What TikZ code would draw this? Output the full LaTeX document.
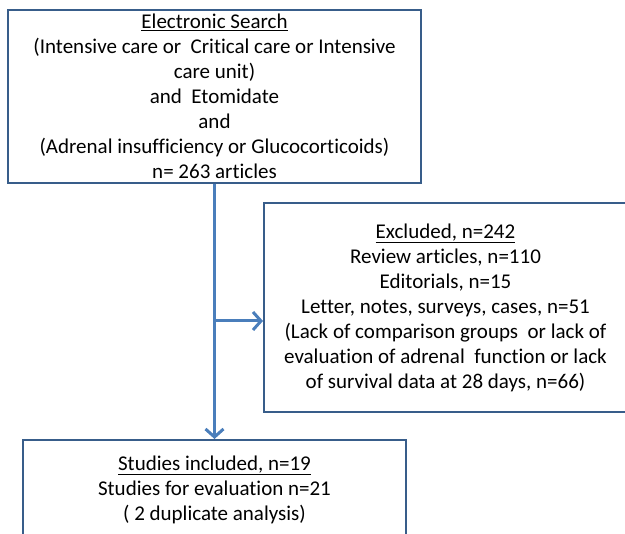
\documentclass[tikz,border=0pt]{standalone}
\usepackage{fontspec}
\setmainfont{Carlito}[Ligatures={NoCommon}]
\usetikzlibrary{arrows.meta}
\definecolor{boxblue}{RGB}{56,93,138}
\definecolor{lineblue}{RGB}{74,126,187}

\begin{document}
\begin{tikzpicture}[x=1pt,y=-1pt,
    flowbox/.style={rectangle, draw=boxblue, line width=2pt, fill=white, align=center,
        font=\fontsize{21}{25}\selectfont, inner sep=0pt},
    conn/.style={draw=lineblue, line width=3pt, -{Straight Barb[length=8pt,width=18pt,line width=3pt]}}]
            \useasboundingbox (0,0) rectangle (625,534);
            \clip (0,0) rectangle (625,534);

            % Search
            \node[flowbox, minimum width=413pt, minimum height=173pt] (search) at (214.5,96.5)
                {\underline{Electronic Search} \\ (Intensive care or\ \ Critical care or Intensive \\ care unit) \\ and\ \ Etomidate \\ and \\ (Adrenal insufficiency or Glucocorticoids) \\ n= 263 articles};

            % Excluded
            \node[flowbox, minimum width=363pt, minimum height=209pt] (excl) at (445.5,307.5)
                {\underline{Excluded, n=242} \\ Review articles, n=110 \\ Editorials, n=15 \\ Letter, notes, surveys, cases, n=51 \\ (Lack of comparison groups\ \ or lack of \\ evaluation of adrenal\ \ function or lack \\ of survival data at 28 days, n=66)};

            % Included
            \node[flowbox, minimum width=383pt, minimum height=100pt] (incl) at (214.5,490)
                {\underline{Studies included, n=19} \\ Studies for evaluation n=21 \\ ( 2 duplicate analysis)};

            % Arrows
            \coordinate (split) at (214.5,321);
            \draw[conn] (search.south) -- (incl.north);
            \draw[conn] (split) -- (split -| excl.west);
        \end{tikzpicture}
\end{document}
